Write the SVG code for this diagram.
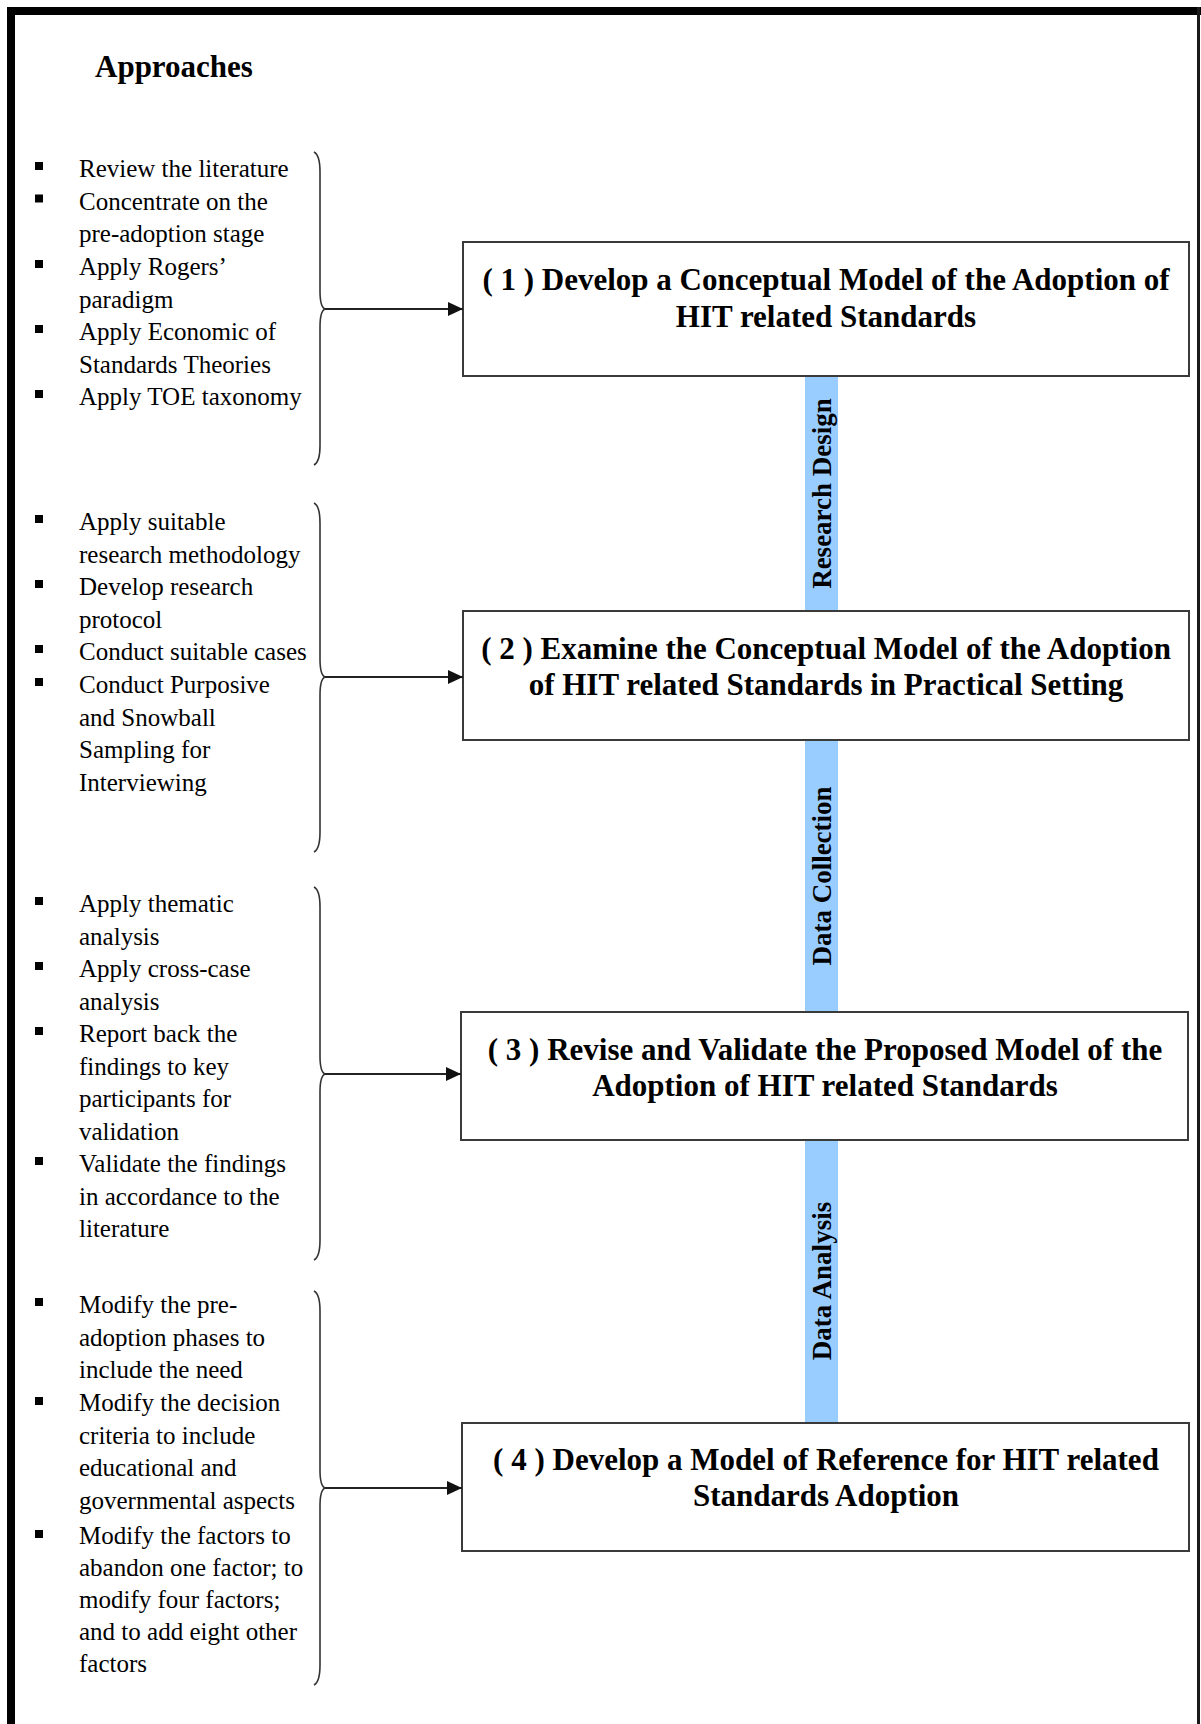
<svg xmlns="http://www.w3.org/2000/svg" width="1201" height="1724" viewBox="0 0 1201 1724">
<style>
.li{font-family:"Liberation Serif","Times New Roman",serif;font-size:25px;fill:#000}
.bx{font-family:"Liberation Serif","Times New Roman",serif;font-size:31px;font-weight:bold;fill:#000;text-anchor:middle}
.lbl{font-family:"Liberation Serif","Times New Roman",serif;font-size:27px;font-weight:bold;fill:#000;text-anchor:middle}
.box{fill:#fff;stroke:#3a3a3a;stroke-width:2}
.bar{fill:#99CCFF}
.br{fill:none;stroke:#333;stroke-width:1.6}
.ar{stroke:#222;stroke-width:2;fill:none}
.bul{fill:#000}
</style>
<defs>
<marker id="ah" markerUnits="userSpaceOnUse" markerWidth="16" markerHeight="16" refX="15" refY="8" orient="auto">
<path d="M0,1 L15,8 L0,15 Z" fill="#111"/>
</marker>
</defs>
<rect width="1201" height="1724" fill="#fff"/>
<g id="frame">
<rect x="7" y="7" width="8" height="1717" fill="#000"/>
<rect x="7" y="7" width="1194" height="8" fill="#000"/>
<rect x="1197" y="7" width="3" height="1717" fill="#1a1a1a"/>
</g>
<text x="95" y="77" font-family="Liberation Serif, Times New Roman, serif" font-size="31" font-weight="bold">Approaches</text>

<g id="bars">
<rect class="bar" x="805" y="376" width="33" height="235"/>
<rect class="bar" x="805" y="740" width="33" height="272"/>
<rect class="bar" x="805" y="1140" width="33" height="283"/>
<text class="lbl" transform="translate(831,493.5) rotate(-90)">Research  Design</text>
<text class="lbl" transform="translate(831,876) rotate(-90)">Data  Collection</text>
<text class="lbl" transform="translate(831,1281) rotate(-90)">Data  Analysis</text>
</g>

<g id="node1">
<rect class="box" x="463" y="242" width="726" height="134"/>
<text class="bx" x="826" y="290">( 1 ) Develop a Conceptual Model of the Adoption of</text>
<text class="bx" x="826" y="327">HIT related Standards</text>
</g>
<g id="node2">
<rect class="box" x="463" y="611" width="726" height="129"/>
<text class="bx" x="826" y="659">( 2 ) Examine the Conceptual Model of the Adoption</text>
<text class="bx" x="826" y="695">of HIT related Standards in Practical Setting</text>
</g>
<g id="node3">
<rect class="box" x="461" y="1012" width="727" height="128"/>
<text class="bx" x="825" y="1060">( 3 ) Revise and Validate the Proposed Model of the</text>
<text class="bx" x="825" y="1096">Adoption of HIT related Standards</text>
</g>
<g id="node4">
<rect class="box" x="462" y="1423" width="727" height="128"/>
<text class="bx" x="826" y="1470">( 4 ) Develop a Model of Reference for HIT related</text>
<text class="bx" x="826" y="1506">Standards Adoption</text>
</g>

<g id="list1">
<rect class="bul" x="35" y="162" width="8" height="8"/>
<rect class="bul" x="35" y="194.5" width="8" height="8"/>
<rect class="bul" x="35" y="260" width="8" height="8"/>
<rect class="bul" x="35" y="325" width="8" height="8"/>
<rect class="bul" x="35" y="390" width="8" height="8"/>
<text class="li" x="79" y="177">Review  the literature</text>
<text class="li" x="79" y="209.5">Concentrate on the</text>
<text class="li" x="79" y="242">pre-adoption stage</text>
<text class="li" x="79" y="275">Apply Rogers’</text>
<text class="li" x="79" y="307.5">paradigm</text>
<text class="li" x="79" y="340">Apply Economic of</text>
<text class="li" x="79" y="372.5">Standards Theories</text>
<text class="li" x="79" y="405">Apply TOE taxonomy</text>
</g>

<g id="list2">
<rect class="bul" x="35" y="515" width="8" height="8"/>
<rect class="bul" x="35" y="580" width="8" height="8"/>
<rect class="bul" x="35" y="645" width="8" height="8"/>
<rect class="bul" x="35" y="678" width="8" height="8"/>
<text class="li" x="79" y="530">Apply suitable</text>
<text class="li" x="79" y="562.5">research methodology</text>
<text class="li" x="79" y="595">Develop research</text>
<text class="li" x="79" y="628">protocol</text>
<text class="li" x="79" y="660">Conduct suitable cases</text>
<text class="li" x="79" y="693">Conduct Purposive</text>
<text class="li" x="79" y="725.5">and Snowball</text>
<text class="li" x="79" y="758">Sampling for</text>
<text class="li" x="79" y="790.5">Interviewing</text>
</g>

<g id="list3">
<rect class="bul" x="35" y="897" width="8" height="8"/>
<rect class="bul" x="35" y="962" width="8" height="8"/>
<rect class="bul" x="35" y="1027" width="8" height="8"/>
<rect class="bul" x="35" y="1157" width="8" height="8"/>
<text class="li" x="79" y="912">Apply thematic</text>
<text class="li" x="79" y="944.5">analysis</text>
<text class="li" x="79" y="977">Apply cross-case</text>
<text class="li" x="79" y="1009.5">analysis</text>
<text class="li" x="79" y="1042">Report back the</text>
<text class="li" x="79" y="1074.5">findings to key</text>
<text class="li" x="79" y="1107">participants for</text>
<text class="li" x="79" y="1139.5">validation</text>
<text class="li" x="79" y="1172">Validate the findings</text>
<text class="li" x="79" y="1204.5">in accordance to the</text>
<text class="li" x="79" y="1237">literature</text>
</g>

<g id="list4">
<rect class="bul" x="35" y="1298" width="8" height="8"/>
<rect class="bul" x="35" y="1397" width="8" height="8"/>
<rect class="bul" x="35" y="1530" width="8" height="8"/>
<text class="li" x="79" y="1313">Modify the pre-</text>
<text class="li" x="79" y="1345.5">adoption phases to</text>
<text class="li" x="79" y="1378">include  the need</text>
<text class="li" x="79" y="1411">Modify the decision</text>
<text class="li" x="79" y="1443.5">criteria to include</text>
<text class="li" x="79" y="1476">educational and</text>
<text class="li" x="79" y="1508.5">governmental aspects</text>
<text class="li" x="79" y="1544">Modify the factors to</text>
<text class="li" x="79" y="1576">abandon one factor; to</text>
<text class="li" x="79" y="1608">modify four factors;</text>
<text class="li" x="79" y="1640">and to add eight  other</text>
<text class="li" x="79" y="1672">factors</text>
</g>

<g id="connectors">
<path class="br" d="M314,152 Q320,155 320,172 L320,291 Q320,307 325,309 Q320,311 320,327 L320,446 Q320,462 314,465"/>
<path class="br" d="M314,503 Q320,506 320,523 L320,659 Q320,675 325,677 Q320,679 320,695 L320,832 Q320,849 314,852"/>
<path class="br" d="M314,887 Q320,890 320,907 L320,1056 Q320,1072 325,1074 Q320,1076 320,1092 L320,1240 Q320,1257 314,1260"/>
<path class="br" d="M314,1291 Q320,1294 320,1311 L320,1470 Q320,1486 325,1488 Q320,1490 320,1506 L320,1665 Q320,1682 314,1685"/>
<line class="ar" x1="325" y1="309" x2="463" y2="309" marker-end="url(#ah)"/>
<line class="ar" x1="325" y1="677" x2="463" y2="677" marker-end="url(#ah)"/>
<line class="ar" x1="325" y1="1074" x2="461" y2="1074" marker-end="url(#ah)"/>
<line class="ar" x1="325" y1="1488" x2="462" y2="1488" marker-end="url(#ah)"/>
</g>
</svg>
